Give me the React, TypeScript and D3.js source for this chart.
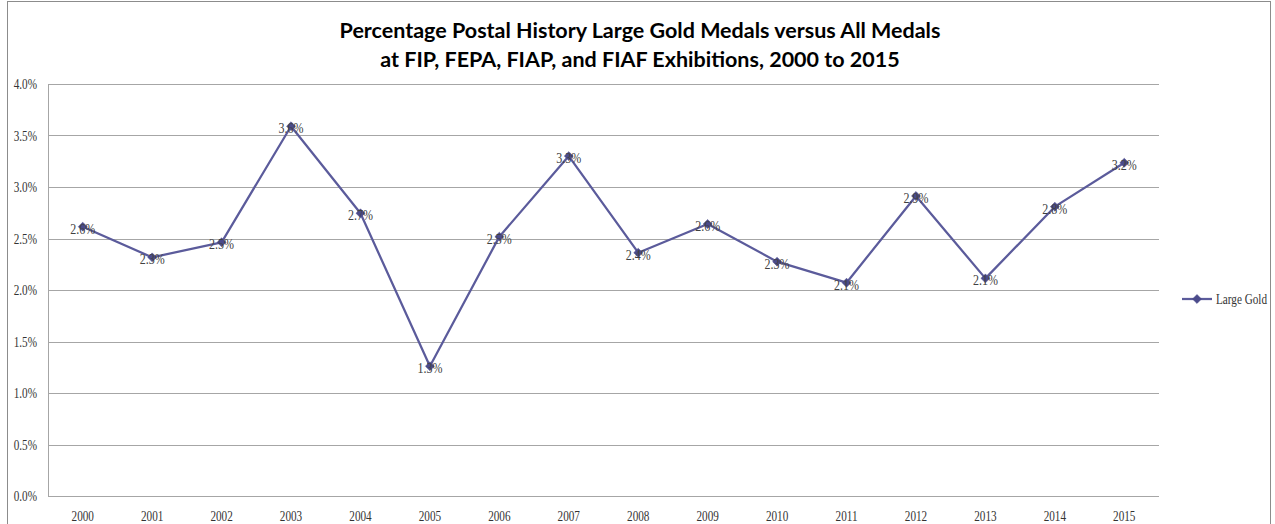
import React from "react";
import * as d3 from "d3";

const years = ["2000","2001","2002","2003","2004","2005","2006","2007","2008","2009","2010","2011","2012","2013","2014","2015"];
const largeGold = [0.02615,0.02317,0.02463,0.0359,0.02745,0.0126,0.02518,0.0330,0.02362,0.02641,0.02275,0.02071,0.02913,0.02113,0.02809,0.03236];
const yTicks = [0,0.005,0.01,0.015,0.02,0.025,0.03,0.035,0.04];
const seriesName = "Large Gold";
const titleLines = [
  "Percentage Postal History Large Gold Medals versus All Medals",
  "at FIP, FEPA, FIAP, and FIAF Exhibitions, 2000 to 2015",
];

const W = 1275, H = 524;
const plot = { left: 48, right: 1159, top: 84, bottom: 496 };
const lineColor = "#5B5B9B";
const markerColor = "#4B4B8B";
const serif = "'Liberation Serif', 'Times New Roman', serif";
const SX = 0.8;

function NText(props: { x: number; y: number; anchor?: string; size: number; fill: string; children: React.ReactNode }) {
  return (
    <text
      transform={`translate(${props.x},${props.y}) scale(${SX},1)`}
      textAnchor={props.anchor || "start"}
      fontFamily={serif}
      fontSize={props.size}
      fill={props.fill}
    >
      {props.children}
    </text>
  );
}

export default function App() {
  const x = d3.scaleBand<string>().domain(years).range([plot.left, plot.right]);
  const y = d3.scaleLinear().domain([0, 0.04]).range([plot.bottom, plot.top]);
  const fmt = d3.format(".1%");
  const cx = (i: number) => (x(years[i]) as number) + x.bandwidth() / 2;
  const line = d3.line<number>().x((_, i) => cx(i)).y((d) => y(d));
  const marker = d3.symbol().type(d3.symbolSquare).size(40)() as string;
  const legendY = 299;

  return (
    <svg width={W} height={H} style={{ position: "absolute", left: 0, top: 0, background: "#fff" }}>
      <rect x={7.5} y={1.5} width={1263} height={H} fill="#fff" stroke="#8c8c8c" strokeWidth={1} />
      {titleLines.map((t, i) => (
        <text key={i} x={640} y={38 + i * 29} textAnchor="middle" fontFamily="Lato, 'Open Sans', sans-serif" fontWeight="bold" fontSize={21.5} fill="#000">{t}</text>
      ))}
      {yTicks.map((t) => (
        <g key={t}>
          <line x1={plot.left} x2={plot.right} y1={Math.round(y(t)) + 0.5} y2={Math.round(y(t)) + 0.5} stroke="#a6a6a6" strokeWidth={1} />
          <NText x={37} y={y(t) + 5} anchor="end" size={14} fill="#333">{fmt(t)}</NText>
        </g>
      ))}
      <line x1={plot.left + 0.5} x2={plot.left + 0.5} y1={plot.top} y2={plot.bottom} stroke="#a6a6a6" strokeWidth={1} />
      {years.map((yr, i) => (
        <NText key={yr} x={cx(i)} y={521} anchor="middle" size={14} fill="#333">{yr}</NText>
      ))}
      <path d={line(largeGold) as string} fill="none" stroke={lineColor} strokeWidth={2.25} strokeLinejoin="round" />
      {largeGold.map((v, i) => (
        <path key={i} d={marker} transform={`translate(${cx(i)},${y(v)}) rotate(45)`} fill={markerColor} stroke={markerColor} strokeWidth={0.5} />
      ))}
      {largeGold.map((v, i) => (
        <NText key={"l" + i} x={cx(i)} y={y(v) + 7} anchor="middle" size={15} fill="#404040">{fmt(v)}</NText>
      ))}
      <line x1={1182} x2={1212} y1={legendY} y2={legendY} stroke={lineColor} strokeWidth={2.25} />
      <path d={marker} transform={`translate(1197,${legendY}) rotate(45)`} fill={markerColor} stroke={markerColor} strokeWidth={0.5} />
      <NText x={1216} y={legendY + 5} size={14} fill="#333">{seriesName}</NText>
    </svg>
  );
}
